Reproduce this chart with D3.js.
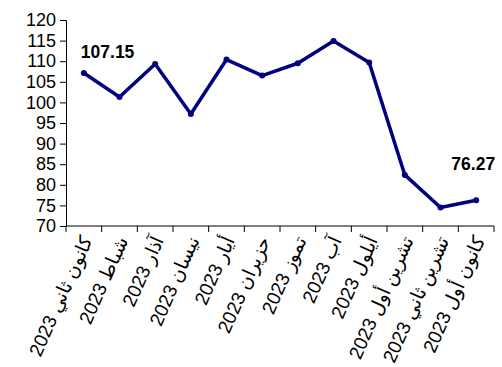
<!DOCTYPE html>
<html>
<head>
<meta charset="utf-8">
<script src="https://cdn.jsdelivr.net/npm/d3@7"></script>
<style>
  body { margin: 0; background: #fff; }
  text { font-family: "Liberation Sans", Arial, sans-serif; }
</style>
</head>
<body>
<div id="chart"></div>
<script>
// data
var months = ["كانون ثاني", "شباط", "آذار", "نيسان", "أيار", "حزيران",
              "تموز", "آب", "أيلول", "تشرين أول", "تشرين ثاني", "كانون أول"];
var year = "2023";
var values = [107.15, 101.3, 109.3, 97.2, 110.4, 106.5, 109.5, 114.9, 109.7, 82.4, 74.5, 76.27];
var yTicks = [70, 75, 80, 85, 90, 95, 100, 105, 110, 115, 120];
var labelled = [0, 11]; // points with a value label

var W = 502, H = 367;
var margin = {top: 20, right: 8, bottom: 141, left: 66};
var width = W - margin.left - margin.right;
var height = H - margin.top - margin.bottom;

var svg = d3.select("#chart").append("svg")
    .attr("width", W).attr("height", H)
  .append("g")
    .attr("transform", "translate(" + margin.left + "," + margin.top + ")");

var xScale = d3.scaleBand().domain(d3.range(months.length)).range([0, width]);
var yScale = d3.scaleLinear().domain([70, 120]).range([height, 0]);
function cx(i) { return xScale(i) + xScale.bandwidth() / 2; }

// y axis
var yAxis = svg.append("g").call(d3.axisLeft(yScale).tickValues(yTicks).tickSize(6).tickPadding(4));
yAxis.selectAll("text").style("font-size", "18px").attr("fill", "#000");
yAxis.selectAll("line, path").attr("stroke", "#000");

// x axis with ticks on the category edges
var xg = svg.append("g").attr("transform", "translate(0," + height + ")");
xg.append("line").attr("x1", 0).attr("x2", width).attr("stroke", "#000");
xg.selectAll(".tk").data(d3.range(months.length + 1)).enter().append("line")
    .attr("x1", function(i) { return i * xScale.step(); })
    .attr("x2", function(i) { return i * xScale.step(); })
    .attr("y1", 0).attr("y2", 6).attr("stroke", "#000");

xg.selectAll(".lab").data(months).enter().append("text")
    .attr("text-anchor", "end")
    .attr("transform", function(d, i) {
      return "translate(" + (cx(i) + 9) + ",14) rotate(-66)";
    })
    .style("font-size", "19px")
    .text(function(d) { return d + " " + year; });

// line
var line = d3.line()
    .x(function(d, i) { return cx(i); })
    .y(function(d) { return yScale(d); });

svg.append("path").datum(values)
    .attr("d", line)
    .attr("fill", "none")
    .attr("stroke", "#000080")
    .attr("stroke-width", 3.5)
    .attr("stroke-linejoin", "round");

svg.selectAll(".dot").data(values).enter().append("circle")
    .attr("cx", function(d, i) { return cx(i); })
    .attr("cy", function(d) { return yScale(d); })
    .attr("r", 3)
    .attr("fill", "#000080");

// value labels: first one sits up-right of its point, last one above-left
svg.selectAll(".val").data(labelled).enter().append("text")
    .attr("x", function(i) { return i === 0 ? cx(i) - 3 : cx(i) + 19; })
    .attr("y", function(i) { return yScale(values[i]) - (i === 0 ? 15 : 30); })
    .attr("text-anchor", function(i) { return i === 0 ? "start" : "end"; })
    .style("font-size", "17.5px")
    .style("font-weight", "bold")
    .text(function(i) { return values[i].toFixed(2); });
</script>
</body>
</html>
